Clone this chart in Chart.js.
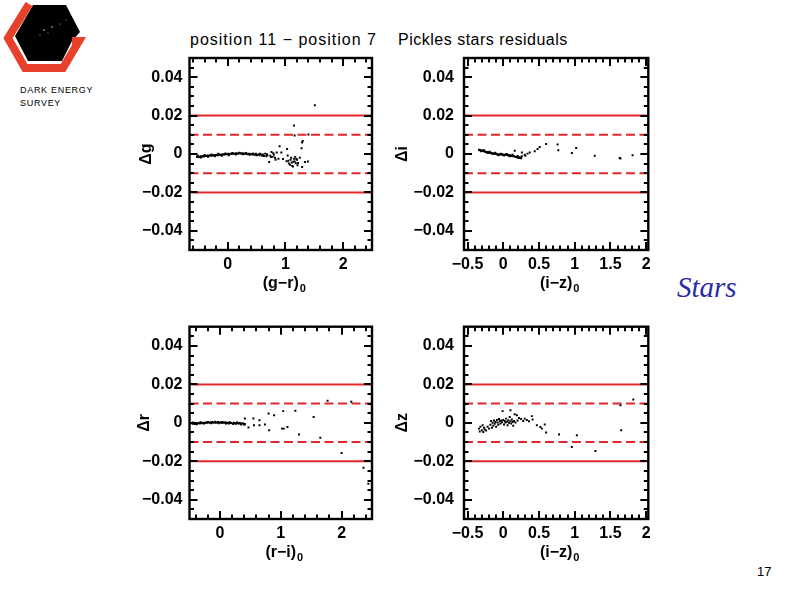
<!DOCTYPE html>
<html><head><meta charset="utf-8">
<script src="https://cdn.jsdelivr.net/npm/chart.js@4.4.0/dist/chart.umd.min.js"></script>
<style>
html,body{margin:0;padding:0;background:#fff;}
#page{position:relative;width:794px;height:595px;overflow:hidden;background:#fff;font-family:'Liberation Sans',Arial,sans-serif;}
canvas{position:absolute;}
.t{position:absolute;white-space:nowrap;color:#000;}
</style></head><body>
<div id="page">
<svg style="position:absolute;left:0;top:0" width="95" height="80" viewBox="0 0 95 80">
  <polygon points="33,5 66,5 80,32 72,41 62,61 28,61 15,36" fill="#000"/>
  <circle cx="44" cy="30" r="0.8" fill="#e8d870"/><circle cx="52" cy="27" r="0.8" fill="#e8d870"/>
  <circle cx="40" cy="35" r="0.6" fill="#d8c860"/><circle cx="60" cy="24" r="0.6" fill="#d8c860"/>
  <circle cx="48" cy="33" r="0.5" fill="#c8b850"/><circle cx="66" cy="20" r="0.5" fill="#c8b850"/>
  <polyline points="29,4 8,38 25,68 63,68 79,41 72,41" fill="none" stroke="#e8402a" stroke-width="8" stroke-linejoin="miter"/>
</svg>
<div class="t" style="left:20px;top:84px;font-size:9px;letter-spacing:0.7px;line-height:13px;">DARK ENERGY<br>SURVEY</div>
<div class="t" style="left:190px;top:31px;font-size:16px;letter-spacing:1px">position 11 − position 7</div>
<div class="t" style="left:398px;top:31px;font-size:16px;letter-spacing:0.5px">Pickles stars residuals</div>
<div class="t" style="left:677px;top:271px;font-family:'Liberation Serif',serif;font-style:italic;font-size:29px;color:#2b2ba6">Stars</div>
<div class="t" style="left:757px;top:564px;font-size:13px">17</div>
<canvas id="c1" width="250" height="250" style="left:130px;top:50px"></canvas>
<canvas id="c2" width="272" height="250" style="left:384px;top:50px"></canvas>
<canvas id="c3" width="250" height="250" style="left:130px;top:319px"></canvas>
<canvas id="c4" width="272" height="250" style="left:384px;top:319px"></canvas>
</div>
<script>
// ---------- DATA ----------
// Panel 1: Δg vs (g−r)0
const gX = [-0.53,-0.51,-0.49,-0.47,-0.45,-0.43,-0.41,-0.39,-0.37,-0.35,-0.33,-0.31,-0.29,-0.27,-0.25,-0.23,-0.21,-0.19,-0.17,-0.15,-0.13,-0.11,-0.09,-0.07,-0.05,-0.03,-0.01,0.01,0.03,0.05,0.07,0.09,0.11,0.13,0.15,0.17,0.19,0.21,0.23,0.25,0.27,0.29,0.31,0.33,0.35,0.37,0.39,0.41,0.43,0.45,0.47,0.49,0.51,0.53,0.55,0.57,0.59,0.61,0.63,0.65,0.67,0.69,0.72,0.74,0.76,0.78,0.80,0.82,0.85,0.88,
  -0.52,-0.46,-0.40,-0.34,-0.28,-0.22,-0.16,-0.10,-0.04,0.02,0.08,0.14,0.20,0.26,0.32,0.38,0.44,0.50,0.56,0.62,0.68,0.75,0.79,0.83,
  0.90,0.93,0.96,1.02,1.03,1.04,1.05,1.06,1.08,1.09,1.10,1.11,1.12,1.13,1.14,1.15,1.15,1.16,1.16,1.17,1.18,1.19,1.20,1.21,1.22,1.25,1.28,1.29,1.29,1.30,1.34,1.39,1.40,1.51];
const gY = [-0.0016,-0.0013,-0.0017,-0.0012,-0.0014,-0.0010,-0.0013,-0.0009,-0.0011,-0.0008,-0.0010,-0.0007,-0.0009,-0.0006,-0.0008,-0.0005,-0.0007,-0.0004,-0.0006,-0.0003,-0.0005,-0.0002,-0.0004,-0.0001,-0.0003,0.0000,-0.0002,0.0001,-0.0001,0.0002,0.0000,0.0003,0.0001,0.0002,0.0004,0.0001,0.0003,0.0005,0.0002,0.0004,0.0001,0.0003,0.0000,0.0002,-0.0001,0.0001,-0.0002,0.0000,-0.0003,-0.0001,-0.0004,0.0001,-0.0005,-0.0002,-0.0006,0.0000,-0.0008,-0.0003,-0.0010,0.0002,-0.0012,-0.0006,-0.0042,-0.0009,0.0010,-0.0015,-0.0004,-0.0020,0.0008,-0.0025,
  -0.0008,-0.0018,-0.0005,-0.0015,-0.0003,-0.0012,0.0001,-0.0009,0.0003,-0.0006,0.0005,-0.0003,0.0006,-0.0002,0.0005,-0.0004,0.0003,-0.0007,0.0002,-0.0011,-0.0001,-0.0016,0.0004,-0.0030,
  0.0040,0.0008,-0.0026,-0.0038,0.0026,-0.0008,-0.0035,-0.0050,-0.0056,-0.0030,-0.0020,-0.0044,-0.0062,-0.0065,-0.0040,0.0149,-0.0025,0.0096,-0.0039,-0.0015,-0.0048,-0.0026,-0.0030,-0.0058,-0.0047,-0.0020,0.0030,-0.0068,0.0060,0.0068,-0.0042,-0.0039,0.0101,0.0254];
// Panel 2: Δi vs (i−z)0
const iX = [-0.34,-0.33,-0.32,-0.30,-0.29,-0.28,-0.26,-0.25,-0.24,-0.22,-0.21,-0.20,-0.18,-0.17,-0.16,-0.14,-0.13,-0.12,-0.10,-0.09,-0.08,-0.06,-0.05,-0.04,-0.02,-0.01,0.00,0.02,0.03,0.04,0.06,0.07,0.08,0.10,0.11,0.12,0.14,0.15,0.16,0.18,0.19,0.20,0.21,0.22,0.23,0.24,
  -0.31,-0.27,-0.23,-0.19,-0.15,-0.11,-0.07,-0.03,0.01,0.05,0.09,0.13,0.17,0.20,0.25,
  0.26,0.26,0.30,0.31,0.34,0.37,0.44,0.48,0.51,0.60,0.76,0.77,0.96,1.02,1.28,1.63,1.64,1.81];
const iY = [0.0022,0.0020,0.0021,0.0018,0.0017,0.0015,0.0013,0.0012,0.0010,0.0010,0.0008,0.0007,0.0006,0.0004,0.0005,0.0003,0.0001,0.0002,0.0000,-0.0001,-0.0001,-0.0002,-0.0003,-0.0002,-0.0003,-0.0004,-0.0004,-0.0005,-0.0003,-0.0004,-0.0006,-0.0005,-0.0008,-0.0007,-0.0009,-0.0010,-0.0012,-0.0011,0.0017,-0.0015,-0.0014,-0.0018,-0.0020,-0.0021,-0.0017,-0.0019,
  0.0014,0.0019,0.0007,0.0012,0.0001,0.0006,-0.0006,0.0001,-0.0008,0.0000,-0.0012,-0.0004,-0.0016,-0.0010,-0.0022,
  -0.0012,0.0008,-0.0004,-0.0009,0.0002,0.0008,0.0014,0.0026,0.0036,0.0052,0.0049,0.0019,0.0005,0.0031,-0.0009,-0.0021,-0.0024,-0.0007];
// Panel 3: Δr vs (r−i)0
const rX = [-0.45,-0.43,-0.41,-0.39,-0.37,-0.35,-0.33,-0.31,-0.29,-0.27,-0.25,-0.23,-0.21,-0.19,-0.17,-0.15,-0.13,-0.11,-0.09,-0.07,-0.05,-0.03,-0.01,0.01,0.03,0.05,0.07,0.09,0.11,0.13,0.15,0.17,0.19,0.21,0.23,0.25,0.27,0.29,0.31,0.33,0.35,0.37,0.39,0.41,
  -0.44,-0.38,-0.32,-0.26,-0.20,-0.14,-0.08,-0.02,0.04,0.10,0.16,0.22,0.28,0.34,0.40,
  0.41,0.47,0.55,0.56,0.65,0.65,0.74,0.80,0.81,0.89,1.02,1.04,1.05,1.11,1.24,1.30,1.54,1.65,1.77,2.00,2.16,2.36,2.44];
const rY = [-0.0005,-0.0003,-0.0006,-0.0002,-0.0004,-0.0001,-0.0003,0.0000,-0.0002,0.0001,-0.0001,0.0002,0.0000,0.0003,0.0001,0.0002,0.0004,0.0001,0.0003,0.0000,0.0002,0.0004,0.0001,0.0003,-0.0001,0.0002,0.0000,0.0003,-0.0002,0.0001,-0.0003,0.0000,-0.0001,-0.0004,0.0001,-0.0002,-0.0005,0.0000,-0.0003,-0.0001,-0.0008,-0.0002,-0.0004,-0.0006,
  0.0002,-0.0007,0.0003,-0.0004,0.0005,-0.0002,0.0006,-0.0002,0.0005,-0.0004,0.0003,-0.0006,0.0002,-0.0005,-0.0010,
  0.0023,-0.0024,0.0023,-0.0012,0.0014,-0.0012,-0.0009,0.0049,-0.0038,0.0040,-0.0030,0.0061,-0.0030,-0.0021,0.0063,-0.0061,0.0031,-0.0078,0.0115,-0.0157,0.0110,-0.0233,-0.0317];
// Panel 4: Δz vs (i−z)0
const zX = [-0.34,-0.33,-0.32,-0.30,-0.29,-0.28,-0.27,-0.26,-0.24,-0.22,-0.20,-0.18,-0.17,-0.16,-0.15,-0.14,-0.13,-0.12,-0.11,-0.10,-0.09,-0.08,-0.07,-0.06,-0.05,-0.04,-0.03,-0.02,-0.01,0.00,0.01,0.02,0.03,0.04,0.05,0.06,0.07,0.08,0.09,0.10,0.10,0.11,0.12,0.13,0.14,0.15,0.16,0.17,0.19,0.20,0.22,0.25,0.28,0.30,0.33,0.36,0.40,0.41,
  0.47,0.52,0.54,0.58,0.60,0.78,0.96,1.03,1.29,1.64,1.65,1.82];
const zY = [-0.0030,-0.0045,-0.0020,-0.0038,-0.0012,-0.0047,-0.0025,-0.0035,-0.0040,-0.0020,-0.0030,-0.0010,0.0010,-0.0025,0.0000,-0.0015,0.0012,-0.0005,0.0005,-0.0020,0.0015,0.0002,-0.0010,0.0020,0.0008,-0.0004,0.0012,0.0003,0.0061,0.0015,-0.0008,0.0010,0.0002,0.0022,0.0006,-0.0012,0.0014,0.0000,0.0030,0.0066,0.0008,-0.0004,0.0018,0.0004,-0.0015,0.0010,0.0045,0.0002,0.0040,0.0012,0.0025,0.0020,0.0010,0.0022,0.0015,0.0008,0.0035,0.0018,
  -0.0012,-0.0021,-0.0030,-0.0009,-0.0050,-0.0061,-0.0125,-0.0064,-0.0146,0.0092,-0.0038,0.0122];

const yTickVals = [-0.04,-0.02,0,0.02,0.04];
const yTickLabels = ['−0.04','−0.02','0','0.02','0.04'];
const xTickValsA = [0,1,2];
const xTickLabelsA = ['0','1','2'];
const xTickValsB = [-0.5,0,0.5,1,1.5,2];
const xTickLabelsB = ['−0.5','0','0.5','1','1.5','2'];
const solidLevels = [0.02,-0.02];
const dashedLevels = [0.01,-0.01];
const yTitles = ['Δg','Δi','Δr','Δz'];
const xTitles = ['(g−r)','(i−z)','(r−i)','(i−z)'];
const xTitleSubs = ['0','0','0','0'];

// ---------- DRAWING ----------
const RED = '#e3262b';
const FONT = "'Liberation Sans', Arial, sans-serif";

const frameTicks = {
  id: 'frameTicks',
  afterDatasetsDraw(chart, args, o) {
    const {ctx, chartArea: a, scales: {x, y}} = chart;
    ctx.save();
    ctx.strokeStyle = '#000';
    ctx.lineWidth = 2;
    ctx.lineCap = 'butt';
    const isMul = (v, s) => Math.abs(v / s - Math.round(v / s)) < 1e-6;
    ctx.beginPath();
    for (let k = Math.ceil(x.min / o.xMinor); k * o.xMinor <= x.max + 1e-9; k++) {
      const v = k * o.xMinor;
      const px = Math.round(x.getPixelForValue(v));
      if (px <= a.left + 1 || px >= a.right - 1) continue;
      const len = isMul(v, o.xMajor) ? 8 : 4.5;
      ctx.moveTo(px, a.bottom); ctx.lineTo(px, a.bottom - len);
      ctx.moveTo(px, a.top); ctx.lineTo(px, a.top + len);
    }
    for (let k = Math.ceil(y.min / o.yMinor - 1e-9); k * o.yMinor <= y.max + 1e-9; k++) {
      const v = k * o.yMinor;
      const py = Math.round(y.getPixelForValue(v));
      if (py <= a.top + 1 || py >= a.bottom - 1) continue;
      const len = isMul(v, o.yMajor) ? 8 : 4.5;
      ctx.moveTo(a.left, py); ctx.lineTo(a.left + len, py);
      ctx.moveTo(a.right, py); ctx.lineTo(a.right - len, py);
    }
    ctx.stroke();
    ctx.lineWidth = 2.4;
    ctx.strokeRect(a.left, a.top, a.right - a.left, a.bottom - a.top);
    ctx.restore();
  },
  afterDraw(chart, args, o) {
    // subscript after the x-axis title
    const {ctx} = chart;
    const xs = chart.scales.x;
    const t = xs.options.title;
    const f = Chart.helpers.toFont(t.font);
    ctx.save();
    ctx.font = f.string;
    const w = ctx.measureText(t.text).width;
    const cx = (xs.left + xs.right) / 2;
    const ty = xs.bottom - (f.lineHeight / 2 + t.padding.bottom);
    ctx.font = 'bold 11px ' + FONT;
    ctx.fillStyle = '#000';
    ctx.textAlign = 'left';
    ctx.textBaseline = 'middle';
    ctx.fillText(o.sub, cx + w / 2 + 1, ty + 6);
    ctx.restore();
  }
};

function makePanel(id, xs, ys, xmin, xmax, xTicks, xTickLabels, xTitle, xSub, yTitle, cfg) {
  const pts = xs.map((v, k) => ({x: v, y: ys[k]}));
  const datasets = [{
    data: pts, pointStyle: 'rect', pointRadius: 1.4, pointBackgroundColor: '#000',
    pointBorderWidth: 0, showLine: false
  }];
  solidLevels.forEach(l => datasets.push({
    data: [{x: xmin, y: l}, {x: xmax, y: l}], showLine: true, borderColor: RED,
    borderWidth: 2, pointRadius: 0, fill: false
  }));
  dashedLevels.forEach(l => datasets.push({
    data: [{x: xmin, y: l}, {x: xmax, y: l}], showLine: true, borderColor: RED,
    borderWidth: 2, borderDash: [9, 4.5], pointRadius: 0, fill: false
  }));
  const tickFont = {family: FONT, size: 16, weight: 'bold', lineHeight: 1.2};
  const titleFont = {family: FONT, size: 16, weight: 'bold', lineHeight: 1.2};
  new Chart(document.getElementById(id), {
    type: 'scatter',
    data: {datasets},
    plugins: [frameTicks],
    options: {
      responsive: false, animation: false, devicePixelRatio: 1,
      layout: {padding: {top: cfg.padTop, right: cfg.padRight, left: 0, bottom: 0}},
      plugins: {legend: {display: false}, tooltip: {enabled: false},
        frameTicks: {xMinor: cfg.xMinor, xMajor: cfg.xMajor, yMinor: 0.005, yMajor: 0.02, sub: xSub}},
      scales: {
        x: {
          type: 'linear', min: xmin, max: xmax,
          grid: {display: false, drawTicks: false}, border: {display: false},
          afterBuildTicks: s => { s.ticks = xTicks.map(v => ({value: v})); },
          afterFit: s => { s.height = 50; s.paddingLeft = 0; s.paddingRight = 0; },
          ticks: {font: tickFont, color: '#000', padding: 5, maxRotation: 0, autoSkip: false,
            callback: (v) => xTickLabels[xTicks.indexOf(v)]},
          title: {display: true, text: xTitle, color: '#000', font: titleFont,
            padding: {top: 0, bottom: 7}}
        },
        y: {
          type: 'linear', min: -0.05, max: 0.05,
          grid: {display: false, drawTicks: false}, border: {display: false},
          afterBuildTicks: s => { s.ticks = yTickVals.map(v => ({value: v})); },
          afterFit: s => { s.width = cfg.yWidth; s.paddingTop = 0; s.paddingBottom = 0; },
          ticks: {font: tickFont, color: '#000', padding: cfg.yPad, autoSkip: false,
            callback: (v) => yTickLabels[yTickVals.indexOf(v)]},
          title: {display: true, text: yTitle, color: '#000', font: titleFont,
            padding: {top: cfg.yTitlePad, bottom: 0}}
        }
      }
    }
  });
}

makePanel('c1', gX, gY, -0.66, 2.5, xTickValsA, xTickLabelsA, xTitles[0], xTitleSubs[0], yTitles[0],
  {padTop: 8, padRight: 8, yWidth: 59.5, yPad: 7, yTitlePad: 7, xMinor: 0.2, xMajor: 1});
makePanel('c2', iX, iY, -0.55, 2.03, xTickValsB, xTickLabelsB, xTitles[1], xTitleSubs[1], yTitles[1],
  {padTop: 8, padRight: 7.7, yWidth: 80, yPad: 10, yTitlePad: 9, xMinor: 0.1, xMajor: 0.5});
makePanel('c3', rX, rY, -0.5, 2.5, xTickValsA, xTickLabelsA, xTitles[2], xTitleSubs[2], yTitles[2],
  {padTop: 7.7, padRight: 8, yWidth: 59.5, yPad: 7, yTitlePad: 5, xMinor: 0.2, xMajor: 1});
makePanel('c4', zX, zY, -0.55, 2.03, xTickValsB, xTickLabelsB, xTitles[3], xTitleSubs[3], yTitles[3],
  {padTop: 7.7, padRight: 7.7, yWidth: 80, yPad: 10, yTitlePad: 9, xMinor: 0.1, xMajor: 0.5});
</script>
</body></html>
